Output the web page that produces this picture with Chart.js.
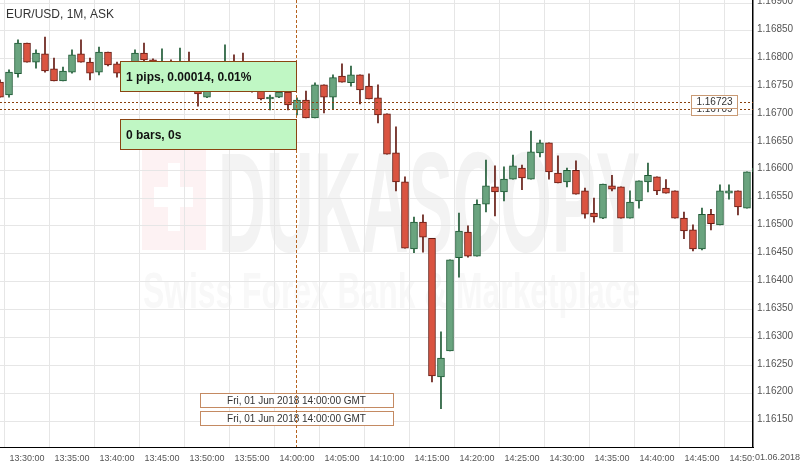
<!DOCTYPE html>
<html>
<head>
<meta charset="utf-8">
<script src="https://cdn.jsdelivr.net/npm/chart.js@4.4.0/dist/chart.umd.min.js"></script>
<style>
  html, body { margin: 0; padding: 0; background: #fff; }
  canvas { display: block; }
</style>
</head>
<body>
<canvas id="candles" width="803" height="467"></canvas>
<script>
// EUR/USD 1 minute candles, 01 Jun 2018
const times = [
  '13:27','13:28','13:29','13:30','13:31','13:32','13:33','13:34','13:35','13:36','13:37','13:38','13:39',
  '13:40','13:41','13:42','13:43','13:44','13:45','13:46','13:47','13:48','13:49','13:50','13:51','13:52',
  '13:53','13:54','13:55','13:56','13:57','13:58','13:59','14:00','14:01','14:02','14:03','14:04','14:05',
  '14:06','14:07','14:08','14:09','14:10','14:11','14:12','14:13','14:14','14:15','14:16','14:17','14:18',
  '14:19','14:20','14:21','14:22','14:23','14:24','14:25','14:26','14:27','14:28','14:29','14:30','14:31',
  '14:32','14:33','14:34','14:35','14:36','14:37','14:38','14:39','14:40','14:41','14:42','14:43','14:44',
  '14:45','14:46','14:47','14:48','14:49','14:50','14:51'
];
const opens = [
  1.16758,1.16735,1.16773,1.16828,1.16794,1.16809,1.16782,1.16760,1.16776,1.16809,1.16794,1.16776,1.16812,
  1.16791,1.16774,1.16766,1.16810,1.16798,1.16771,1.16794,1.16766,1.16789,1.16758,1.16731,1.16753,1.16771,
  1.16789,1.16771,1.16758,1.16753,1.16728,1.16731,1.16740,1.16708,1.16726,1.16694,1.16753,1.16731,1.16769,
  1.16757,1.16771,1.16751,1.16730,1.16701,1.16631,1.16579,1.16459,1.16507,1.16478,1.16229,1.16276,1.16443,
  1.16489,1.16446,1.16539,1.16570,1.16561,1.16584,1.16604,1.16584,1.16631,1.16649,1.16595,1.16579,1.16600,
  1.16563,1.16523,1.16514,1.16572,1.16570,1.16514,1.16545,1.16579,1.16588,1.16568,1.16563,1.16514,1.16493,
  1.16459,1.16521,1.16502,1.16559,1.16563,1.16532,1.16597
];
const highs = [
  1.16762,1.16780,1.16834,1.16828,1.16816,1.16839,1.16801,1.16785,1.16816,1.16834,1.16801,1.16821,1.16812,
  1.16794,1.16780,1.16816,1.16828,1.16800,1.16818,1.16798,1.16819,1.16812,1.16766,1.16757,1.16780,1.16825,
  1.16807,1.16810,1.16766,1.16762,1.16735,1.16744,1.16744,1.16730,1.16742,1.16757,1.16753,1.16771,1.16791,
  1.16787,1.16771,1.16773,1.16753,1.16701,1.16678,1.16588,1.16516,1.16520,1.16478,1.16310,1.16439,1.16523,
  1.16500,1.16547,1.16618,1.16608,1.16606,1.16627,1.16609,1.16670,1.16654,1.16649,1.16626,1.16604,1.16617,
  1.16568,1.16550,1.16575,1.16591,1.16570,1.16563,1.16581,1.16613,1.16588,1.16583,1.16563,1.16525,1.16502,
  1.16532,1.16530,1.16574,1.16574,1.16563,1.16597,1.16609
];
const lows = [
  1.16731,1.16731,1.16767,1.16794,1.16783,1.16776,1.16760,1.16760,1.16774,1.16794,1.16762,1.16771,1.16787,
  1.16767,1.16762,1.16762,1.16794,1.16780,1.16766,1.16771,1.16762,1.16753,1.16715,1.16730,1.16748,1.16766,
  1.16762,1.16748,1.16740,1.16726,1.16708,1.16730,1.16708,1.16699,1.16694,1.16694,1.16703,1.16710,1.16758,
  1.16751,1.16719,1.16728,1.16685,1.16629,1.16563,1.16460,1.16452,1.16453,1.16220,1.16172,1.16276,1.16408,
  1.16444,1.16446,1.16525,1.16518,1.16545,1.16584,1.16565,1.16584,1.16624,1.16584,1.16577,1.16570,1.16557,
  1.16514,1.16507,1.16513,1.16563,1.16514,1.16514,1.16532,1.16561,1.16556,1.16559,1.16514,1.16477,1.16455,
  1.16457,1.16493,1.16502,1.16548,1.16520,1.16532,1.16591
];
const closes = [
  1.16731,1.16776,1.16828,1.16794,1.16810,1.16778,1.16760,1.16778,1.16807,1.16794,1.16774,1.16812,1.16789,
  1.16774,1.16766,1.16810,1.16798,1.16791,1.16794,1.16780,1.16789,1.16758,1.16737,1.16753,1.16771,1.16789,
  1.16771,1.16753,1.16748,1.16728,1.16731,1.16740,1.16717,1.16726,1.16694,1.16753,1.16731,1.16766,1.16758,
  1.16771,1.16744,1.16728,1.16699,1.16629,1.16579,1.16460,1.16507,1.16480,1.16231,1.16263,1.16439,1.16491,
  1.16446,1.16539,1.16572,1.16561,1.16584,1.16608,1.16586,1.16633,1.16649,1.16597,1.16577,1.16600,1.16557,
  1.16521,1.16516,1.16575,1.16566,1.16514,1.16543,1.16581,1.16591,1.16563,1.16559,1.16514,1.16491,1.16459,
  1.16521,1.16504,1.16563,1.16563,1.16534,1.16597,1.16604
];

const xTickTimes = ['13:30','13:35','13:40','13:45','13:50','13:55','14:00','14:05','14:10',
                    '14:15','14:20','14:25','14:30','14:35','14:40','14:45','14:50'];
const yTicks = [1.1615,1.162,1.1625,1.163,1.1635,1.164,1.1645,1.165,1.1655,1.166,1.1665,1.167,1.1675,1.168,1.1685,1.169];

// visible window
const xMin = '13:27', xMaxMinutes = 890.67;
const yMin = 1.161034, yMax = 1.169054;

// cursor / measurement overlay values
const cursorTime = '14:00';
const markPrices = [1.16723, 1.16709];
const measureTexts = ['1 pips, 0.00014, 0.01%', '0 bars, 0s'];
const cursorLabel = 'Fri, 01 Jun 2018 14:00:00 GMT';
const dateLabel = '01.06.2018';
const title = 'EUR/USD, 1M, ASK';

const FONT = '"Liberation Sans", Arial, sans-serif';
const UP = '#6aa47f', UP_EDGE = '#1e5a35', DOWN = '#da5441', DOWN_EDGE = '#641a12';

function toMinutes(t) {
    const [h, m] = t.split(':').map(Number);
    return h * 60 + m;
}

const isUp = times.map((t, i) => closes[i] >= opens[i]);
const bodies = times.map((t, i) => ({ x: toMinutes(t), y: [opens[i], closes[i]] }));
const wicks = times.map((t, i) => ({ x: toMinutes(t), y: [lows[i], highs[i]] }));

function fitText(ctx, text, font, x, y, w, h, color) {
    ctx.save();
    ctx.font = font;
    const m = ctx.measureText(text);
    ctx.translate(x, y + h);
    ctx.scale(w / m.width, h / m.actualBoundingBoxAscent);
    ctx.fillStyle = color;
    ctx.textBaseline = 'alphabetic';
    ctx.fillText(text, 0, 0);
    ctx.restore();
}

// faint broker watermark behind the grid
const watermark = {
    id: 'watermark',
    beforeDraw(chart) {
        const ctx = chart.ctx;
        ctx.save();
        ctx.fillStyle = '#fdf2f3';
        ctx.fillRect(142, 150, 64, 100);
        ctx.fillStyle = '#ffffff';
        ctx.fillRect(168, 163, 12, 68);
        ctx.fillRect(154, 187, 39, 20);
        ctx.restore();
        fitText(ctx, 'DUKASCOPY', 'bold 100px ' + FONT, 218, 152, 422, 100, '#f3f3f3');
        fitText(ctx, 'Swiss Forex Bank & Marketplace', 'bold 100px ' + FONT, 143, 272, 497, 36, '#f8f8f8');
    }
};

function box(ctx, x, y, w, h, fill, edge) {
    ctx.fillStyle = fill;
    ctx.fillRect(x, y, w, h);
    ctx.strokeStyle = edge;
    ctx.lineWidth = 1;
    ctx.strokeRect(x + 0.5, y + 0.5, w - 1, h - 1);
}

const overlay = {
    id: 'overlay',
    afterDatasetsDraw(chart) {
        const ctx = chart.ctx, area = chart.chartArea;
        const xs = chart.scales.x, ys = chart.scales.y;
        const cx = Math.round(xs.getPixelForValue(toMinutes(cursorTime))) - 0.5;
        ctx.save();

        // dotted price marks
        ctx.strokeStyle = '#8a3f0c';
        ctx.lineWidth = 1;
        ctx.setLineDash([2, 2]);
        markPrices.forEach(p => {
            const py = Math.round(ys.getPixelForValue(p)) + 0.5;
            ctx.beginPath();
            ctx.moveTo(area.left, py);
            ctx.lineTo(area.right, py);
            ctx.stroke();
        });

        // price tags on the right
        ctx.setLineDash([]);
        ctx.font = '10px ' + FONT;
        ctx.textAlign = 'center';
        ctx.textBaseline = 'middle';
        [1, 0].forEach(i => {
            const py = Math.round(ys.getPixelForValue(markPrices[i]));
            box(ctx, 691, py - 7, 47, 14, '#ffffff', '#c99a74');
            ctx.fillStyle = '#333';
            ctx.fillText(markPrices[i].toFixed(5), 714.5, py + 0.5);
        });

        // cursor time labels
        const bw = 194;
        [393, 411].forEach(by => {
            box(ctx, cx - bw / 2 + 0.5, by, bw, 15, '#ffffff', '#c48a62');
            ctx.fillStyle = '#333';
            ctx.font = '10px ' + FONT;
            ctx.fillText(cursorLabel, cx, by + 8);
        });

        // vertical cursor line
        ctx.strokeStyle = '#b4621e';
        ctx.setLineDash([3, 2]);
        ctx.beginPath();
        ctx.moveTo(cx, area.top);
        ctx.lineTo(cx, area.bottom);
        ctx.stroke();
        ctx.setLineDash([]);

        // measurement boxes
        ctx.textAlign = 'left';
        ctx.font = 'bold 12px ' + FONT;
        [[61, 31], [119, 31]].forEach(([by, bh], i) => {
            box(ctx, 120, by, cx + 0.5 - 120, bh, '#c0f7c4', '#8a4512');
            ctx.fillStyle = '#111';
            ctx.fillText(measureTexts[i], 126, by + bh / 2 + 1);
        });
        ctx.restore();
    },
    afterDraw(chart) {
        const ctx = chart.ctx;
        ctx.save();
        ctx.font = '12px ' + FONT;
        ctx.fillStyle = '#333';
        ctx.textBaseline = 'middle';
        ctx.fillText(title, 6, 15);
        ctx.fillStyle = '#ffffff';
        ctx.fillRect(755, 450, 48, 17);
        ctx.font = '9px ' + FONT;
        ctx.fillStyle = '#555';
        ctx.fillText(dateLabel, 755, 458);
        ctx.restore();
    }
};

new Chart(document.getElementById('candles'), {
    type: 'bar',
    data: {
        datasets: [
            {
                label: 'wick',
                data: wicks,
                grouped: false,
                order: 2,
                barThickness: 1,
                backgroundColor: isUp.map(u => u ? UP_EDGE : DOWN_EDGE),
                borderWidth: 0,
                clip: 0
            },
            {
                label: 'body',
                data: bodies,
                grouped: false,
                order: 1,
                barThickness: 7,
                backgroundColor: isUp.map(u => u ? UP : DOWN),
                borderColor: isUp.map(u => u ? UP_EDGE : DOWN_EDGE),
                borderWidth: 1,
                borderSkipped: false,
                clip: 0
            }
        ]
    },
    options: {
        responsive: false,
        animation: false,
        layout: { padding: 0 },
        plugins: { legend: { display: false }, tooltip: { enabled: false } },
        scales: {
            x: {
                type: 'linear',
                offset: false,
                min: toMinutes(xMin),
                max: xMaxMinutes,
                grid: { color: '#e6e6e6', drawTicks: false },
                border: { display: true, color: '#000', width: 1 },
                afterBuildTicks: axis => { axis.ticks = xTickTimes.map(t => ({ value: toMinutes(t) })); },
                afterFit: axis => { axis.height = 20; axis.paddingLeft = 0; axis.paddingRight = 0; },
                ticks: {
                    autoSkip: false,
                    maxRotation: 0,
                    padding: 6,
                    color: '#555',
                    font: { family: FONT, size: 9 },
                    callback: v => {
                        const h = Math.floor(v / 60), m = v % 60;
                        return String(h).padStart(2, '0') + ':' + String(m).padStart(2, '0') + ':00';
                    }
                }
            },
            y: {
                position: 'right',
                min: yMin,
                max: yMax,
                grid: { color: '#e6e6e6', drawTicks: false },
                border: { display: true, color: '#000', width: 1.5 },
                afterBuildTicks: axis => { axis.ticks = yTicks.map(v => ({ value: v })); },
                afterFit: axis => { axis.width = 50; axis.paddingTop = 0; axis.paddingBottom = 0; },
                ticks: {
                    padding: 4,
                    labelOffset: -1.5,
                    color: '#555',
                    font: { family: FONT, size: 10 },
                    callback: v => v.toFixed(5)
                }
            }
        }
    },
    plugins: [watermark, overlay]
});
</script>
</body>
</html>
